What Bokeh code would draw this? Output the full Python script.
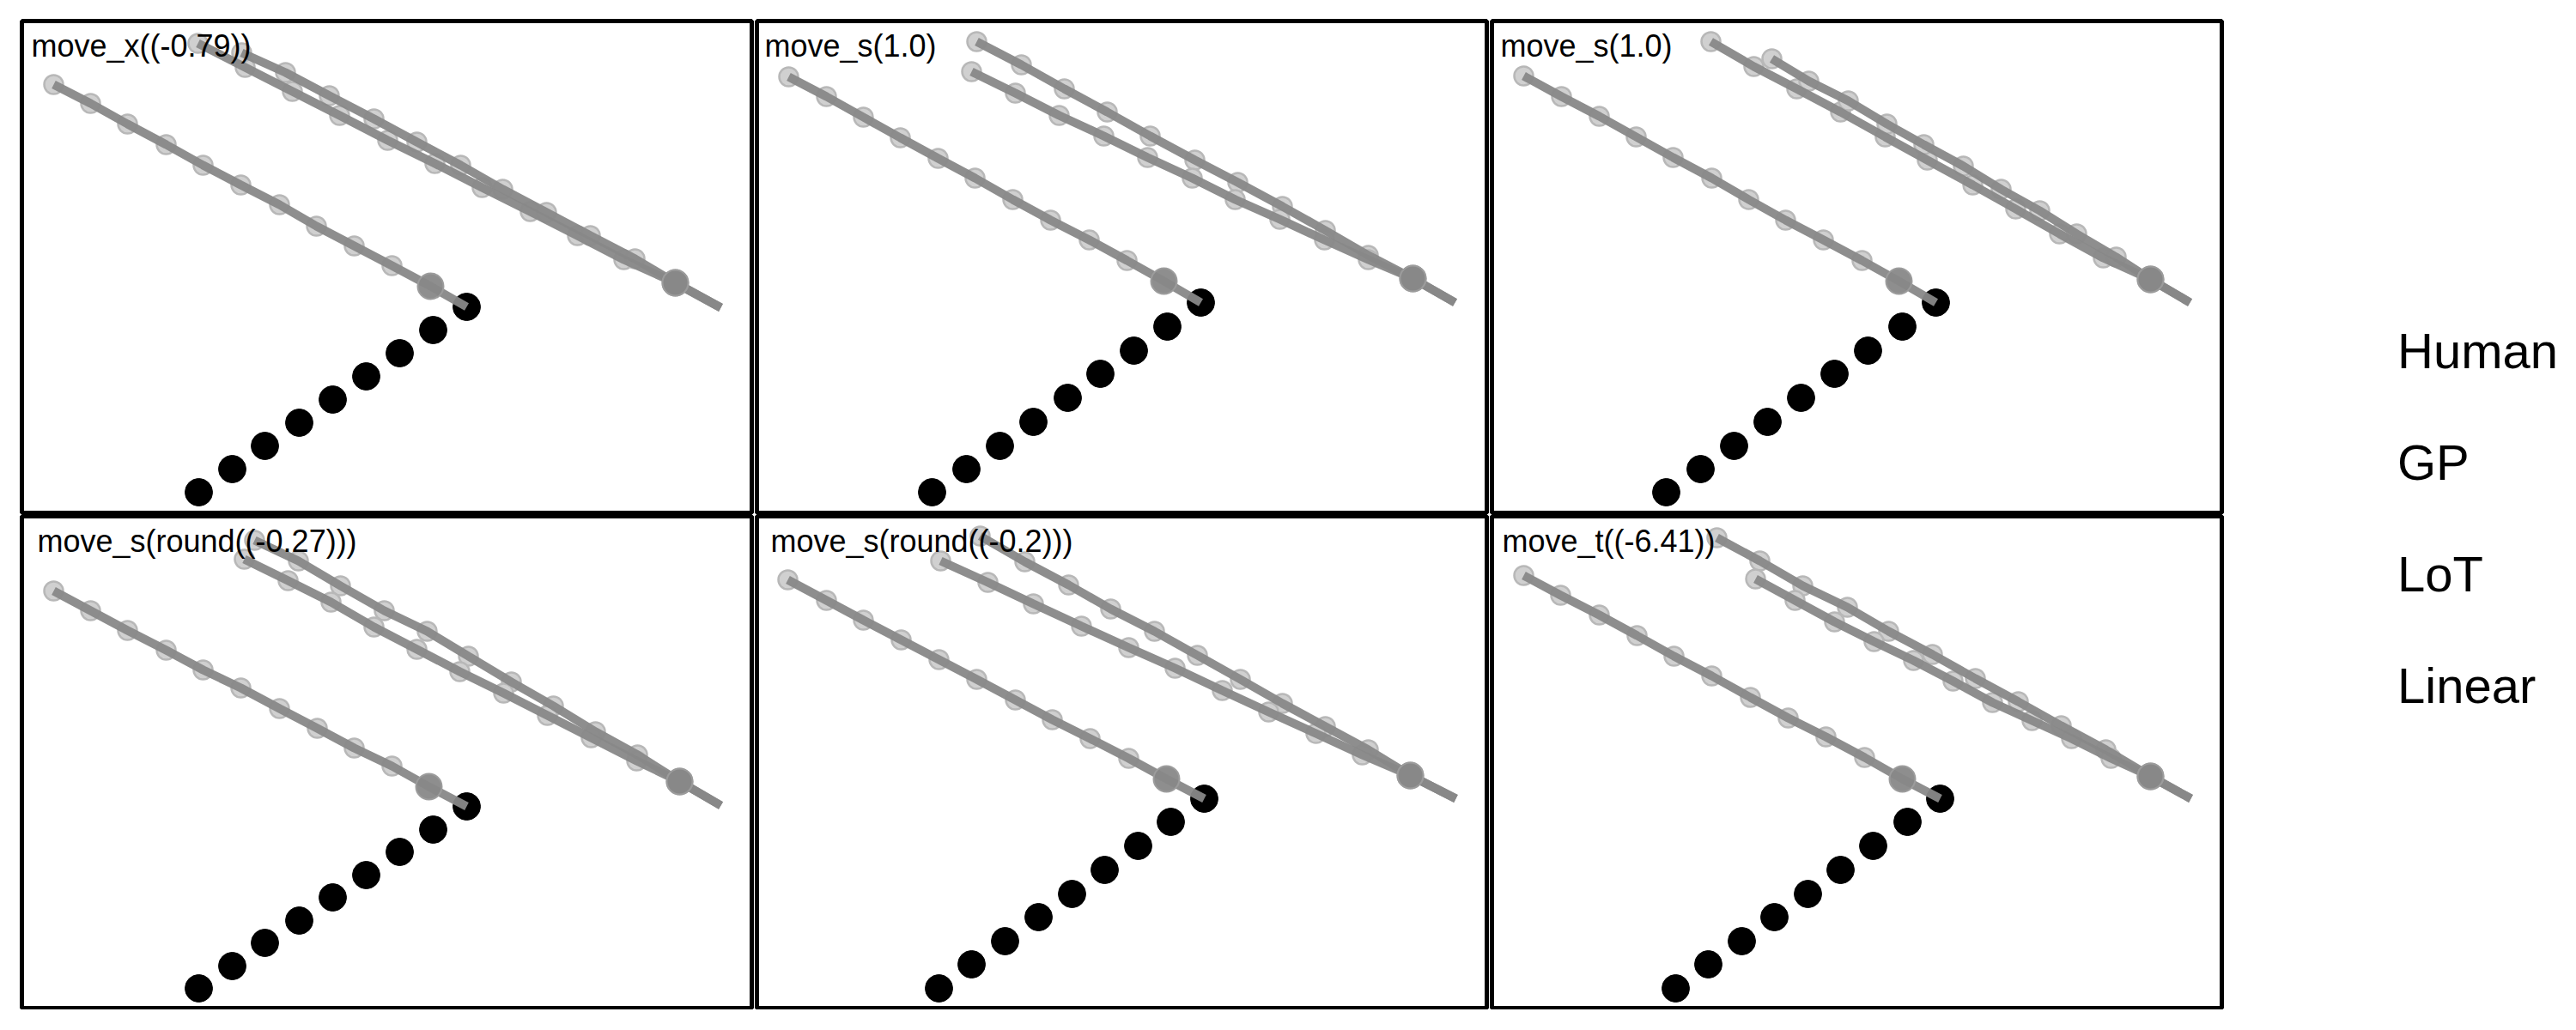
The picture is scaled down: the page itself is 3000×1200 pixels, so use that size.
from bokeh.plotting import figure
from bokeh.layouts import gridplot, row, column, Spacer
from bokeh.models import Range1d, Label, Legend, LegendItem
from bokeh.embed import file_html
from bokeh.resources import INLINE

# ---------------- data (panel coordinates, y grows downward) ----------------
TITLES = ["move_x((-0.79))", "move_s(1.0)", "move_s(1.0)",
          "move_s(round((-0.27)))", "move_s(round((-0.2)))", "move_t((-6.41))"]

LEGEND_LABELS = ["Human", "GP", "LoT", "Linear"]

HUMAN_X = [
    [206, 245, 283, 323, 362, 401, 440, 479, 518],
    [204, 244, 283, 322, 362, 400, 439, 478, 517],
    [203, 243, 282, 321, 360, 399, 438, 478, 517],
    [206, 245, 283, 323, 362, 401, 440, 479, 518],
    [212, 250, 289, 328, 367, 405, 444, 482, 521],
    [214, 252, 291, 329, 368, 406, 444, 484, 522],
]
HUMAN_Y = [
    [549, 522, 495, 468, 441, 414, 387, 360, 333],
    [549, 522, 495, 467, 439, 411, 384, 356, 328],
    [549, 522, 495, 467, 439, 411, 384, 356, 328],
    [550, 524, 497, 471, 444, 418, 391, 365, 338],
    [550, 522, 495, 467, 440, 412, 384, 356, 329],
    [550, 522, 495, 467, 440, 412, 384, 356, 329],
]

# each prediction: 10 later steps, first step, anchor point
GP_X = [
    [37, 80, 123, 168, 211, 255, 300, 343, 387, 431, 476, 518],
    [37, 81, 124, 167, 211, 254, 298, 342, 387, 431, 474, 517],
    [37, 81, 125, 168, 211, 256, 299, 342, 386, 431, 474, 517],
    [37, 80, 123, 168, 211, 255, 300, 344, 387, 431, 474, 518],
    [36, 81, 124, 168, 212, 256, 301, 344, 388, 433, 477, 521],
    [37, 80, 125, 169, 212, 256, 301, 345, 389, 434, 478, 522],
]
GP_Y = [
    [74, 96, 120, 144, 168, 191, 214, 239, 262, 285, 309, 333],
    [65, 88, 112, 136, 160, 183, 208, 232, 255, 279, 303, 328],
    [64, 88, 111, 135, 159, 183, 208, 232, 255, 279, 303, 328],
    [87, 110, 133, 156, 179, 200, 224, 247, 270, 291, 315, 338],
    [74, 98, 121, 144, 167, 190, 214, 237, 259, 282, 306, 329],
    [69, 92, 115, 139, 163, 186, 211, 235, 257, 281, 306, 329],
]

LINEAR_X = [
    [205, 260, 315, 370, 426, 481, 536, 592, 647, 701, 761, 814],
    [256, 308, 358, 408, 458, 510, 560, 612, 662, 712, 764, 813],
    [255, 305, 355, 406, 458, 507, 560, 610, 661, 712, 767, 813],
    [271, 322, 371, 422, 472, 520, 570, 619, 668, 717, 766, 814],
    [260, 312, 363, 412, 463, 513, 563, 612, 662, 712, 761, 814],
    [262, 312, 362, 414, 462, 513, 563, 613, 663, 715, 767, 814],
]
LINEAR_Y = [
    [26, 54, 82, 110, 139, 166, 194, 222, 250, 278, 305, 334],
    [24, 51, 79, 106, 134, 162, 188, 216, 244, 273, 300, 328],
    [24, 53, 79, 106, 135, 162, 191, 219, 248, 276, 301, 328],
    [28, 52, 81, 110, 134, 163, 193, 221, 251, 278, 309, 337],
    [23, 53, 80, 108, 134, 162, 190, 218, 245, 272, 302, 329],
    [25, 52, 81, 106, 134, 161, 189, 216, 244, 272, 303, 329],
]

LOT_X = [
    [256, 307, 358, 410, 460, 511, 560, 611, 662, 714, 761, 814],
    [250, 301, 352, 404, 455, 507, 557, 609, 661, 712, 764, 813],
    [326, 369, 415, 460, 503, 549, 593, 638, 681, 727, 767, 813],
    [259, 310, 360, 410, 460, 510, 561, 612, 663, 716, 766, 814],
    [214, 269, 322, 378, 433, 487, 542, 596, 651, 705, 761, 814],
    [307, 353, 399, 445, 491, 537, 583, 629, 675, 721, 767, 814],
]
LOT_Y = [
    [37, 60, 87, 114, 141, 168, 196, 223, 250, 277, 305, 334],
    [59, 84, 110, 134, 159, 183, 208, 231, 255, 278, 300, 328],
    [44, 70, 93, 120, 144, 169, 196, 221, 248, 275, 301, 328],
    [50, 75, 100, 129, 155, 181, 206, 232, 258, 285, 309, 337],
    [52, 77, 102, 128, 153, 177, 203, 228, 253, 278, 302, 329],
    [73, 98, 123, 146, 168, 192, 217, 238, 259, 282, 303, 329],
]

# ---------------- layout / style constants ----------------
FRAME_W, FRAME_H = 850, 573
TITLE_OFFSETS = [11, 9, 10, 18, 16, 12]
FONT = "Liberation Sans"
LINE_GRAY = "#888888"


def make_panel(i):
    p = figure(width=FRAME_W + 6, height=FRAME_H + 4,
               x_range=Range1d(0, FRAME_W), y_range=Range1d(FRAME_H, 0),
               output_backend="svg", toolbar_location=None,
               x_axis_type=None, y_axis_type=None,
               min_border_left=3, min_border_right=3,
               min_border_top=2, min_border_bottom=2,
               outline_line_color="black", outline_line_width=5,
               background_fill_color="white", border_fill_color="white")
    p.scatter(HUMAN_X[i], HUMAN_Y[i], size=32, fill_color="black", line_color="black")
    preds = [(GP_X[i], GP_Y[i]), (LINEAR_X[i], LINEAR_Y[i]), (LOT_X[i], LOT_Y[i])]
    for xs, ys in preds:
        p.scatter(xs[:10], ys[:10], size=22, fill_color="#d0d0d0",
                  line_color="#b8b8b8", line_width=2.5)
    for xs, ys in preds:
        p.line(xs, ys, line_color=LINE_GRAY, line_width=10, line_alpha=0.95)
    for xs, ys in preds:
        p.scatter(xs[10:11], ys[10:11], size=30, fill_color=LINE_GRAY,
                  fill_alpha=0.95, line_color="#9c9c9c", line_width=2)
    p.add_layout(Label(x=TITLE_OFFSETS[i], y=FRAME_H - 29, x_units="screen", y_units="screen",
                       text=TITLES[i], text_font=FONT, text_font_size="36px",
                       text_color="black", text_baseline="alphabetic"))
    return p


panels = [make_panel(i) for i in range(6)]
grid = gridplot([panels[:3], panels[3:]], toolbar_location=None)

leg = figure(width=410, height=1154, x_range=Range1d(0, 1), y_range=Range1d(0, 1),
             output_backend="svg", toolbar_location=None,
             x_axis_type=None, y_axis_type=None,
             min_border_left=0, min_border_right=0, min_border_top=8, min_border_bottom=0,
             outline_line_color=None, background_fill_color="white", border_fill_color="white")
items = []
for lab in LEGEND_LABELS:
    r = leg.scatter([-10], [-10], size=10, fill_alpha=0, line_alpha=0)
    items.append(LegendItem(label=lab, renderers=[r]))
legend = Legend(items=items, location="left", margin=0, padding=0,
                glyph_width=190, glyph_height=130, label_height=130, spacing=0,
                label_standoff=12, label_text_font=FONT, label_text_font_size="58px",
                label_text_color="black", border_line_alpha=0, background_fill_alpha=0)
leg.add_layout(legend, "center")

layout = column(Spacer(width=3000, height=22),
                row(Spacer(width=22, height=1154), grid, leg))

open("out.html", "w").write(file_html(layout, INLINE))
